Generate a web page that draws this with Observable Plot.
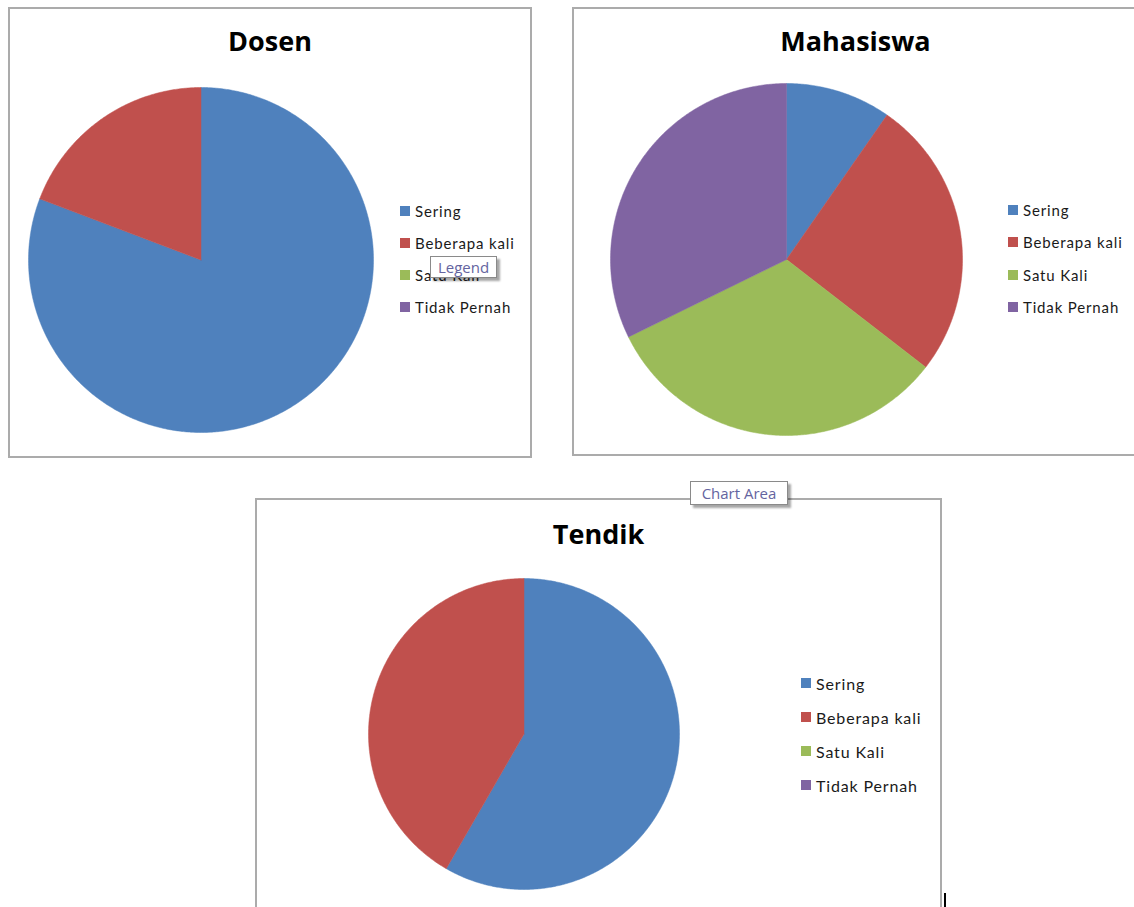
<!DOCTYPE html>
<html>
<head>
<meta charset="utf-8">
<script src="https://cdn.jsdelivr.net/npm/d3@7"></script>
<script src="https://cdn.jsdelivr.net/npm/@observablehq/plot@0.6"></script>
<style>
  html, body { margin: 0; padding: 0; background: #fff; }
  #page { position: relative; width: 1134px; height: 907px; overflow: hidden; background: #fff; font-family: "Open Sans", sans-serif; }
  .panel { position: absolute; border: 2px solid #ababab; box-sizing: border-box; background: #fff; }
  .title { position: absolute; text-align: center; font-weight: bold; font-size: 27px; color: #000; line-height: 1; }
  .pie { position: absolute; }
  .leg { position: absolute; display: flex; align-items: center; white-space: nowrap; color: #1a1a1a; font-family: Lato, sans-serif; letter-spacing: 0.85px; }
  .leg .sw { width: 10px; height: 10px; margin-right: 5px; }
  .tip { position: absolute; background: #fff; border: 1px solid #8a8a8a; box-shadow: 3px 3px 2px rgba(0,0,0,0.35); color: #6464a0; font-family: "Open Sans", sans-serif; font-size: 15px; text-align: center; box-sizing: border-box; }
</style>
</head>
<body>
<div id="page"></div>
<script>
// ---- data ----
const categories = ["Sering", "Beberapa kali", "Satu Kali", "Tidak Pernah"];
const colors = ["#4F81BD", "#C0504D", "#9BBB59", "#8064A2"];
const titles = ["Dosen", "Mahasiswa", "Tendik"];
const dosenValues = [21, 5, 0, 0];
const mahasiswaValues = [3, 8, 10, 10];
const tendikValues = [7, 5, 0, 0];

// ---- layout ----
const page = document.getElementById("page");
const panels = [
  {title: titles[0], values: dosenValues, box: [8, 7, 524, 451], titleTop: 27, cx: 200, cy: 259, r: 172.5,
   leg: {x: 400, y: 211, dy: 32, size: 15}},
  {title: titles[1], values: mahasiswaValues, box: [572, 7, 567, 449], titleTop: 27, cx: 786, cy: 258.5, r: 176,
   leg: {x: 1008, y: 210, dy: 32.3, size: 15}},
  {title: titles[2], values: tendikValues, box: [255, 498, 687, 430], titleTop: 520, cx: 523, cy: 733.5, r: 155.5,
   leg: {x: 801, y: 683, dy: 34, size: 16}}
];

function el(cls, style, text) {
  const d = document.createElement("div");
  if (cls) d.className = cls;
  Object.assign(d.style, style);
  if (text != null) d.textContent = text;
  page.appendChild(d);
  return d;
}

function pieChart(values, r) {
  const arcs = d3.pie().sort(null).value(d => d)(values);
  const pts = [];
  arcs.forEach((a, i) => {
    const span = a.endAngle - a.startAngle;
    if (span <= 0) return;
    const cat = categories[i];
    const n = Math.max(2, Math.ceil(span / (Math.PI / 360)));
    pts.push({cat, x: 0, y: 0});
    for (let k = 0; k <= n; k++) {
      const t = a.startAngle + span * k / n;
      pts.push({cat, x: Math.sin(t), y: Math.cos(t)});
    }
    pts.push({cat, x: 0, y: 0});
  });
  const m = 2;
  return Plot.plot({
    width: 2 * r + 2 * m, height: 2 * r + 2 * m, margin: m,
    x: {domain: [-1, 1], axis: null},
    y: {domain: [-1, 1], axis: null},
    color: {domain: categories, range: colors},
    marks: [
      Plot.line(pts, {x: "x", y: "y", z: "cat", fill: "cat", stroke: "cat", strokeWidth: 0.5})
    ]
  });
}

panels.forEach(p => {
  const [l, t, w, h] = p.box;
  el("panel", {left: l + "px", top: t + "px", width: w + "px", height: h + "px"});
  el("title", {left: l + "px", width: w + "px", top: p.titleTop + "px"}, p.title);
  const holder = el("pie", {left: (p.cx - p.r - 2) + "px", top: (p.cy - p.r - 2) + "px", width: (2 * p.r + 4) + "px"});
  holder.appendChild(pieChart(p.values, p.r));
  categories.forEach((c, i) => {
    const row = el("leg", {left: p.leg.x + "px", top: (p.leg.y + i * p.leg.dy - 11) + "px", height: "22px", fontSize: p.leg.size + "px"});
    const sw = document.createElement("div");
    sw.className = "sw";
    sw.style.background = colors[i];
    row.appendChild(sw);
    const tx = document.createElement("span");
    tx.textContent = c;
    row.appendChild(tx);
  });
});

// tooltips as in the screenshot
el("tip", {left: "430px", top: "256px", width: "67px", height: "22px", lineHeight: "20px"}, "Legend");
el("tip", {left: "690px", top: "481px", width: "98px", height: "24px", lineHeight: "22px"}, "Chart Area");
// text cursor mark
el(null, {position: "absolute", left: "944px", top: "893px", width: "2px", height: "14px", background: "#000"});
</script>
</body>
</html>
